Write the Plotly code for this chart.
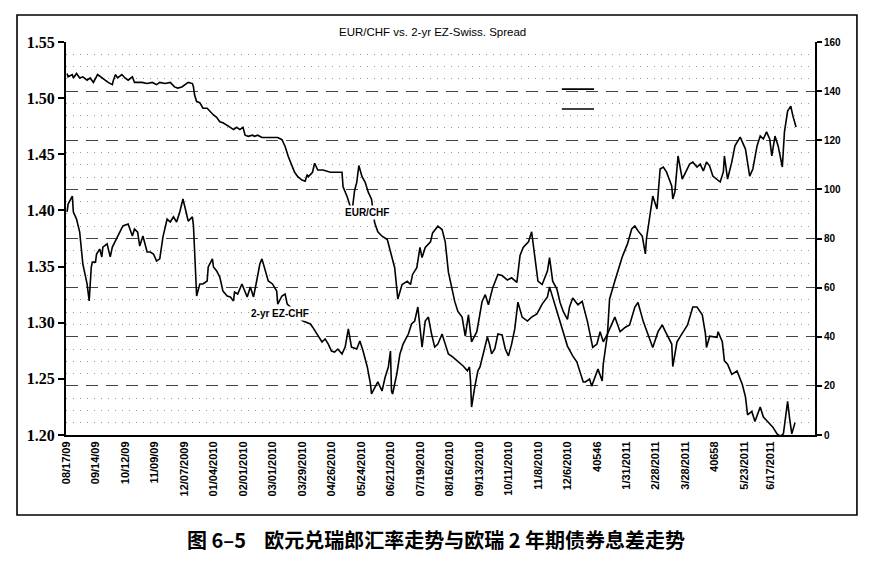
import plotly.graph_objects as go

# x-axis labels as printed in the source chart (two of them are Excel serials)
tick_dates = ['2009-08-17', '2009-09-14', '2009-10-12', '2009-11-09', '2009-12-07', '2010-01-04', '2010-02-01',
              '2010-03-01', '2010-03-29', '2010-04-26', '2010-05-24', '2010-06-21', '2010-07-19', '2010-08-16',
              '2010-09-13', '2010-10-11', '2010-11-08', '2010-12-06', '2011-01-03', '2011-01-31', '2011-02-28',
              '2011-03-28', '2011-04-25', '2011-05-23', '2011-06-17']
tick_labels = ['08/17/09', '09/14/09', '10/12/09', '11/09/09', '12/07/2009', '01/04/2010', '02/01/2010',
               '03/01/2010', '03/29/2010', '04/26/2010', '05/24/2010', '06/21/2010', '07/19/2010', '08/16/2010',
               '09/13/2010', '10/11/2010', '11/8/2010', '12/6/2010', '40546', '1/31/2011', '2/28/2011',
               '3/28/2011', '40658', '5/23/2011', '6/17/2011']

# EUR/CHF (left axis)
eurchf_dates = [
    '2009-08-18', '2009-08-19', '2009-08-23', '2009-08-24', '2009-08-27', '2009-08-30', '2009-09-02', '2009-09-06', '2009-09-09', '2009-09-12',
    '2009-09-16', '2009-09-20', '2009-09-23', '2009-09-26', '2009-09-30', '2009-10-01', '2009-10-03', '2009-10-05', '2009-10-09', '2009-10-12',
    '2009-10-15', '2009-10-19', '2009-10-21', '2009-10-24', '2009-10-28', '2009-11-02', '2009-11-07', '2009-11-11', '2009-11-14', '2009-11-19',
    '2009-11-24', '2009-11-28', '2009-12-01', '2009-12-05', '2009-12-08', '2009-12-11', '2009-12-15', '2009-12-16', '2009-12-17', '2009-12-19',
    '2009-12-22', '2009-12-25', '2009-12-29', '2010-01-01', '2010-01-04', '2010-01-07', '2010-01-10', '2010-01-13', '2010-01-17', '2010-01-20',
    '2010-01-23', '2010-01-26', '2010-01-29', '2010-02-01', '2010-02-03', '2010-02-06', '2010-02-10', '2010-02-12', '2010-02-15', '2010-02-19',
    '2010-02-24', '2010-03-01', '2010-03-06', '2010-03-10', '2010-03-13', '2010-03-16', '2010-03-20', '2010-03-22', '2010-03-25', '2010-03-29',
    '2010-04-01', '2010-04-03', '2010-04-04', '2010-04-08', '2010-04-10', '2010-04-13', '2010-04-18', '2010-04-25', '2010-05-01', '2010-05-06',
    '2010-05-07', '2010-05-11', '2010-05-14', '2010-05-15', '2010-05-18', '2010-05-20', '2010-05-22', '2010-05-25', '2010-05-28', '2010-05-31',
    '2010-06-03', '2010-06-04', '2010-06-06', '2010-06-09', '2010-06-13', '2010-06-18', '2010-06-22', '2010-06-25', '2010-06-28', '2010-07-02',
    '2010-07-07', '2010-07-10', '2010-07-12', '2010-07-16', '2010-07-19', '2010-07-21', '2010-07-24', '2010-07-29', '2010-07-31', '2010-08-05',
    '2010-08-09', '2010-08-12', '2010-08-15', '2010-08-18', '2010-08-21', '2010-08-24', '2010-08-28', '2010-08-31', '2010-09-03', '2010-09-06',
    '2010-09-11', '2010-09-16', '2010-09-19', '2010-09-22', '2010-09-26', '2010-10-01', '2010-10-05', '2010-10-10', '2010-10-14', '2010-10-19',
    '2010-10-22', '2010-10-25', '2010-10-30', '2010-11-02', '2010-11-05', '2010-11-08', '2010-11-12', '2010-11-17', '2010-11-19', '2010-11-22',
    '2010-11-26', '2010-11-29', '2010-12-02', '2010-12-06', '2010-12-08', '2010-12-11', '2010-12-16', '2010-12-20', '2010-12-25', '2010-12-27',
    '2010-12-30', '2011-01-03', '2011-01-06', '2011-01-09', '2011-01-13', '2011-01-20', '2011-01-25', '2011-01-30', '2011-02-03', '2011-02-08',
    '2011-02-11', '2011-02-16', '2011-02-20', '2011-02-25', '2011-03-02', '2011-03-06', '2011-03-09', '2011-03-15', '2011-03-16', '2011-03-20',
    '2011-03-26', '2011-03-30', '2011-04-04', '2011-04-08', '2011-04-13', '2011-04-16', '2011-04-17', '2011-04-20', '2011-04-27', '2011-04-28',
    '2011-05-02', '2011-05-04', '2011-05-07', '2011-05-11', '2011-05-16', '2011-05-21', '2011-05-24', '2011-05-26', '2011-05-30', '2011-06-02',
    '2011-06-07', '2011-06-10', '2011-06-14', '2011-06-19', '2011-06-23', '2011-06-26', '2011-06-29', '2011-07-01', '2011-07-03', '2011-07-05',
    '2011-07-07', '2011-07-10']
eurchf = [
    1.522, 1.519, 1.521, 1.518, 1.522, 1.518, 1.519, 1.516, 1.518, 1.514,
    1.521, 1.518, 1.516, 1.514, 1.512, 1.516, 1.521, 1.518, 1.521, 1.518,
    1.516, 1.519, 1.514, 1.514, 1.514, 1.513, 1.514, 1.512, 1.514, 1.513,
    1.514, 1.510, 1.509, 1.510, 1.512, 1.514, 1.513, 1.510, 1.503, 1.497,
    1.496, 1.491, 1.491, 1.488, 1.485, 1.483, 1.479, 1.478, 1.476, 1.474,
    1.472, 1.474, 1.472, 1.474, 1.467, 1.466, 1.467, 1.466, 1.467, 1.465,
    1.465, 1.465, 1.465, 1.463, 1.457, 1.448, 1.438, 1.434, 1.430, 1.427,
    1.426, 1.432, 1.430, 1.434, 1.442, 1.436, 1.436, 1.434, 1.434, 1.434,
    1.421, 1.412, 1.403, 1.395, 1.418, 1.425, 1.440, 1.430, 1.425, 1.416,
    1.410, 1.403, 1.389, 1.381, 1.377, 1.374, 1.361, 1.349, 1.321, 1.334,
    1.337, 1.334, 1.343, 1.349, 1.367, 1.358, 1.367, 1.372, 1.380, 1.386,
    1.383, 1.372, 1.345, 1.331, 1.319, 1.310, 1.305, 1.288, 1.307, 1.283,
    1.292, 1.319, 1.325, 1.316, 1.331, 1.343, 1.342, 1.338, 1.340, 1.336,
    1.360, 1.367, 1.372, 1.381, 1.361, 1.337, 1.334, 1.346, 1.358, 1.337,
    1.330, 1.318, 1.310, 1.303, 1.314, 1.322, 1.316, 1.319, 1.301, 1.292,
    1.278, 1.281, 1.292, 1.283, 1.290, 1.305, 1.292, 1.296, 1.298, 1.314,
    1.318, 1.301, 1.290, 1.278, 1.292, 1.298, 1.292, 1.281, 1.261, 1.283,
    1.292, 1.298, 1.314, 1.314, 1.307, 1.290, 1.278, 1.288, 1.287, 1.292,
    1.283, 1.266, 1.263, 1.254, 1.257, 1.245, 1.234, 1.218, 1.221, 1.212,
    1.225, 1.216, 1.212, 1.207, 1.201, 1.199, 1.201, 1.214, 1.230, 1.214,
    1.201, 1.211]

# 2-yr EZ-Swiss spread, bp (right axis)
spread_dates = [
    '2009-08-18', '2009-08-19', '2009-08-23', '2009-08-24', '2009-08-27', '2009-08-30', '2009-09-02', '2009-09-06', '2009-09-08', '2009-09-10',
    '2009-09-11', '2009-09-14', '2009-09-15', '2009-09-18', '2009-09-20', '2009-09-21', '2009-09-25', '2009-09-28', '2009-09-30', '2009-10-03',
    '2009-10-05', '2009-10-07', '2009-10-10', '2009-10-15', '2009-10-19', '2009-10-21', '2009-10-24', '2009-10-26', '2009-10-29', '2009-11-02',
    '2009-11-05', '2009-11-08', '2009-11-11', '2009-11-14', '2009-11-16', '2009-11-17', '2009-11-21', '2009-11-24', '2009-11-27', '2009-11-30',
    '2009-12-03', '2009-12-06', '2009-12-09', '2009-12-11', '2009-12-15', '2009-12-16', '2009-12-17', '2009-12-19', '2009-12-22', '2009-12-25',
    '2009-12-29', '2009-12-30', '2010-01-03', '2010-01-04', '2010-01-07', '2010-01-10', '2010-01-13', '2010-01-17', '2010-01-20', '2010-01-23',
    '2010-01-24', '2010-01-27', '2010-01-31', '2010-02-03', '2010-02-05', '2010-02-08', '2010-02-11', '2010-02-14', '2010-02-17', '2010-02-19',
    '2010-02-22', '2010-02-25', '2010-03-01', '2010-03-05', '2010-03-06', '2010-03-10', '2010-03-13', '2010-03-15', '2010-03-20', '2010-03-25',
    '2010-03-30', '2010-04-06', '2010-04-08', '2010-04-12', '2010-04-17', '2010-04-20', '2010-04-23', '2010-04-26', '2010-04-29', '2010-05-02',
    '2010-05-06', '2010-05-09', '2010-05-12', '2010-05-15', '2010-05-20', '2010-05-23', '2010-05-26', '2010-05-30', '2010-06-02', '2010-06-03',
    '2010-06-06', '2010-06-09', '2010-06-13', '2010-06-16', '2010-06-19', '2010-06-21', '2010-06-22', '2010-06-23', '2010-06-27', '2010-06-30',
    '2010-07-03', '2010-07-08', '2010-07-11', '2010-07-14', '2010-07-17', '2010-07-21', '2010-07-24', '2010-07-27', '2010-07-30', '2010-08-02',
    '2010-08-05', '2010-08-09', '2010-08-12', '2010-08-15', '2010-08-19', '2010-08-24', '2010-08-29', '2010-09-02', '2010-09-04', '2010-09-05',
    '2010-09-06', '2010-09-09', '2010-09-12', '2010-09-14', '2010-09-17', '2010-09-21', '2010-09-23', '2010-09-25', '2010-09-28', '2010-10-01',
    '2010-10-05', '2010-10-08', '2010-10-11', '2010-10-14', '2010-10-17', '2010-10-20', '2010-10-24', '2010-10-29', '2010-11-02', '2010-11-07',
    '2010-11-12', '2010-11-17', '2010-11-19', '2010-11-24', '2010-11-29', '2010-12-02', '2010-12-06', '2010-12-11', '2010-12-15', '2010-12-18',
    '2010-12-21', '2010-12-23', '2010-12-27', '2010-12-29', '2011-01-04', '2011-01-08', '2011-01-09', '2011-01-13', '2011-01-15', '2011-01-20',
    '2011-01-23', '2011-01-27', '2011-02-01', '2011-02-03', '2011-02-05', '2011-02-08', '2011-02-11', '2011-02-15', '2011-02-18', '2011-02-19',
    '2011-02-22', '2011-02-25', '2011-03-01', '2011-03-04', '2011-03-07', '2011-03-10', '2011-03-15', '2011-03-16', '2011-03-18', '2011-03-21',
    '2011-03-25', '2011-03-28', '2011-04-01', '2011-04-04', '2011-04-08', '2011-04-11', '2011-04-14', '2011-04-17', '2011-04-20', '2011-04-23',
    '2011-04-27', '2011-04-30', '2011-05-03', '2011-05-04', '2011-05-07', '2011-05-11', '2011-05-14', '2011-05-19', '2011-05-24', '2011-05-28',
    '2011-05-31', '2011-06-04', '2011-06-07', '2011-06-10', '2011-06-13', '2011-06-16', '2011-06-18', '2011-06-21', '2011-06-24', '2011-06-28',
    '2011-06-30', '2011-07-03', '2011-07-06', '2011-07-08', '2011-07-11']
spread = [
    90.8, 94.0, 97.3, 90.8, 87.9, 82.6, 69.6, 61.5, 54.6, 68.4,
    70.4, 70.4, 73.7, 75.7, 72.5, 76.5, 77.8, 72.5, 76.5, 79.0,
    80.6, 82.6, 85.1, 85.9, 81.0, 83.9, 82.6, 76.9, 81.0, 74.5,
    74.5, 73.7, 70.8, 71.7, 76.5, 80.6, 87.9, 86.7, 88.8, 86.7,
    90.8, 96.1, 90.8, 87.1, 88.8, 85.1, 75.7, 56.6, 61.5, 61.5,
    62.7, 68.4, 71.7, 68.4, 66.8, 64.3, 58.6, 56.6, 56.2, 54.6,
    58.2, 57.4, 61.5, 58.2, 56.2, 60.3, 56.2, 62.7, 69.6, 71.7,
    66.8, 62.7, 61.5, 58.6, 53.3, 56.6, 57.4, 53.3, 51.3, 48.0,
    46.4, 45.2, 44.0, 41.1, 37.9, 39.1, 37.0, 34.2, 33.8, 35.0,
    33.0, 35.8, 43.2, 35.8, 35.0, 38.3, 34.2, 27.7, 20.8, 16.7,
    19.5, 21.6, 17.9, 23.6, 27.7, 34.2, 17.9, 16.7, 24.8, 33.0,
    37.0, 41.1, 45.2, 46.4, 52.1, 35.8, 46.4, 48.0, 41.1, 35.8,
    37.0, 41.1, 37.0, 33.0, 31.8, 30.1, 28.1, 26.1, 27.7, 22.0,
    11.4, 19.5, 26.1, 27.7, 33.0, 39.9, 37.0, 33.0, 35.0, 41.1,
    40.7, 35.0, 32.2, 37.0, 43.2, 54.1, 48.0, 46.4, 48.0, 49.3,
    53.3, 56.2, 60.3, 53.3, 46.4, 41.9, 36.2, 32.2, 29.7, 25.6,
    21.6, 21.6, 22.8, 19.9, 26.9, 22.0, 28.9, 41.1, 55.4, 62.7,
    66.8, 72.5, 77.8, 81.0, 83.9, 85.1, 83.1, 81.0, 73.7, 79.8,
    89.2, 97.3, 92.0, 108.3, 109.1, 107.1, 101.4, 96.1, 98.9, 113.6,
    104.2, 107.1, 110.3, 111.1, 109.1, 110.3, 107.5, 111.1, 109.5, 105.4,
    104.2, 103.0, 107.1, 113.6, 104.2, 111.1, 117.7, 121.3, 116.4, 105.4,
    108.3, 117.7, 121.7, 120.5, 123.4, 120.5, 113.6, 121.7, 117.7, 109.1,
    123.4, 131.9, 133.9, 129.9, 125.4]

fig = go.Figure()
fig.add_trace(go.Scatter(x=eurchf_dates, y=eurchf, mode='lines', name='EUR/CHF',
                         line=dict(color='black', width=1.6)))
fig.add_trace(go.Scatter(x=spread_dates, y=spread, mode='lines', name='2-yr EZ-CHF', yaxis='y2',
                         line=dict(color='black', width=1.6)))

# the page body adds an 8px offset, so the figure is 8px smaller than the window
fig.update_layout(
    width=878, height=556, autosize=False,
    margin=dict(l=58, r=71, t=34, b=129),
    paper_bgcolor='white', plot_bgcolor='white',
    showlegend=False,
    xaxis=dict(type='date', range=['2009-08-17', '2011-07-29'],
               tickmode='array', tickvals=tick_dates, ticktext=tick_labels, tickangle=-90,
               tickfont=dict(family='Liberation Sans Narrow, Arial Narrow, Liberation Sans', size=11,
                             color='black', weight='bold'),
               showgrid=False, zeroline=False, showline=True, linecolor='black', linewidth=2, ticks=''),
    yaxis=dict(range=[1.20, 1.55], dtick=0.05, tickformat='.2f',
               tickfont=dict(family='Liberation Serif, Times New Roman, serif', size=16,
                             color='black', weight='bold'),
               showgrid=False, zeroline=False, showline=True, linecolor='black', linewidth=2,
               ticks='outside', ticklen=6, tickwidth=1.5, tickcolor='black'),
    yaxis2=dict(range=[0, 160], dtick=20, overlaying='y', side='right',
                tickfont=dict(family='Liberation Sans, Arial', size=10, color='black', weight='bold'),
                showgrid=True, gridcolor='#444444', gridwidth=0.8, griddash='12px,8px',
                minor=dict(dtick=5, showgrid=True, gridcolor='#999999', gridwidth=0.8,
                           griddash='1px,6px', ticks=''),
                zeroline=False, showline=True, linecolor='black', linewidth=2,
                ticks='outside', ticklen=5, tickwidth=1.5, tickcolor='black'),
)

# book-style frame around the whole chart
fig.add_shape(type='rect', xref='paper', yref='paper', x0=-0.0654, x1=1.056, y0=-0.2036, y1=1.0687,
              line=dict(color='black', width=1.6))

# empty legend keys left in the original
for ky in [0.880, 0.8295]:
    fig.add_shape(type='line', xref='paper', yref='paper', x0=0.662, x1=0.705, y0=ky, y1=ky,
                  line=dict(color='black', width=1.6))

fig.add_annotation(text='EUR/CHF vs. 2-yr EZ-Swiss. Spread', xref='paper', yref='paper', x=0.489, y=1.0254,
                   xanchor='center', yanchor='middle', showarrow=False,
                   font=dict(family='Liberation Sans, Arial', size=11.5, color='black'))
fig.add_annotation(text='<b>EUR/CHF</b>', xref='paper', yref='paper', x=0.402, y=0.565,
                   xanchor='center', yanchor='middle', showarrow=False, bgcolor='white', borderpad=1,
                   font=dict(family='Liberation Sans, Arial', size=10, color='black'))
fig.add_annotation(text='<b>2-yr EZ-CHF</b>', xref='paper', yref='paper', x=0.2857, y=0.308,
                   xanchor='center', yanchor='middle', showarrow=False, bgcolor='white', borderpad=1,
                   font=dict(family='Liberation Sans, Arial', size=10, color='black'))
fig.add_annotation(text='<b>图 6–5\u00a0\u00a0\u00a0\u00a0欧元兑瑞郎汇率走势与欧瑞 2 年期债券息差走势</b>',
                   xref='paper', yref='paper', x=0.494, y=-0.267, xanchor='center', yanchor='middle',
                   showarrow=False, font=dict(family='Noto Sans CJK SC', size=20, color='black'))

fig.write_html('out.html')
